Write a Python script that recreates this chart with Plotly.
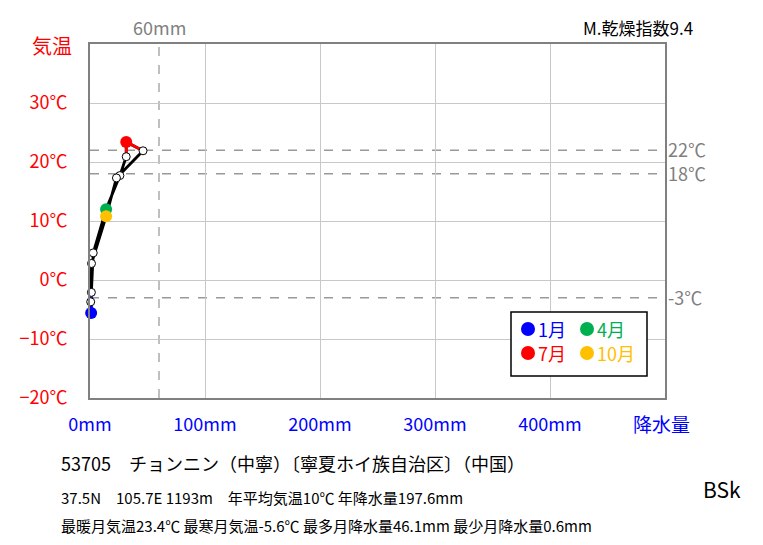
import plotly.graph_objects as go

# ---- data ----
months = ["1月", "2月", "3月", "4月", "5月", "6月", "7月", "8月", "9月", "10月", "11月", "12月"]
temp = [-5.6, -2.1, 4.6, 12.0, 17.7, 20.9, 23.4, 21.9, 17.3, 10.8, 2.8, -3.7]
precip = [1.0, 1.2, 2.8, 14.0, 26.0, 31.5, 31.5, 46.1, 23.0, 14.0, 1.3, 0.6]
highlight = {0: "#0000ff", 3: "#00b050", 6: "#ff0000", 9: "#ffc000"}
seg_colors = {0: "#0000ff", 6: "#ff0000"}
temp_lines = [22, 18, -3]
temp_line_labels = ["22℃", "18℃", "-3℃"]
precip_line = 60
y_ticks = [-20, -10, 0, 10, 20, 30]
y_ticktext = ["−20℃", "−10℃", "0℃", "10℃", "20℃", "30℃"]
x_ticks = [0, 100, 200, 300, 400]
x_ticktext = ["0mm", "100mm", "200mm", "300mm", "400mm"]

FONT = "Noto Sans CJK JP"
OFF = 8  # page body margin
W, H = 763 - 2 * OFF, 545 - 2 * OFF
# plot area in page pixels
PX0, PX1, PY1, PY0 = 90, 665, 44, 398
L = PX0 - OFF
T = PY1 - OFF
R = W - (PX1 - OFF)
B = H - (PY0 - OFF)


def px(x):
    return (x - PX0) / (PX1 - PX0)


def py(y):
    return (PY0 - y) / (PY0 - PY1)


fig = go.Figure()

# closed loop
lx = precip + [precip[0]]
ly = temp + [temp[0]]
fig.add_trace(go.Scatter(x=lx, y=ly, mode="lines", line=dict(color="black", width=2.8),
                         hoverinfo="skip", showlegend=False, cliponaxis=False))
n = len(temp)
for i, c in seg_colors.items():
    idx = [(i - 1) % n, i, (i + 1) % n]
    fig.add_trace(go.Scatter(x=[precip[k] for k in idx], y=[temp[k] for k in idx], mode="lines",
                             line=dict(color=c, width=2.8), hoverinfo="skip", showlegend=False,
                             cliponaxis=False))

wi = [i for i in range(n) if i not in highlight]
fig.add_trace(go.Scatter(x=[precip[i] for i in wi], y=[temp[i] for i in wi], mode="markers",
                         marker=dict(size=8, color="white", line=dict(color="black", width=1)),
                         text=[months[i] for i in wi], showlegend=False, cliponaxis=False))
hi = list(highlight.keys())
fig.add_trace(go.Scatter(x=[precip[i] for i in hi], y=[temp[i] for i in hi], mode="markers",
                         marker=dict(size=12, color=[highlight[i] for i in hi], line=dict(width=0)),
                         text=[months[i] for i in hi], showlegend=False, cliponaxis=False))

shapes = []
for t in temp_lines:
    shapes.append(dict(type="line", xref="paper", yref="y", x0=0, x1=1, y0=t, y1=t,
                       line=dict(color="#999999", width=1.5, dash="dash"), layer="below"))
shapes.append(dict(type="line", xref="x", yref="paper", x0=precip_line, x1=precip_line, y0=0, y1=1,
                   line=dict(color="#aaaaaa", width=1.5, dash="dash"), layer="below"))

# legend box
shapes.append(dict(type="rect", xref="paper", yref="paper", x0=px(511), x1=px(647), y0=py(376), y1=py(312),
                   line=dict(color="black", width=1.5), fillcolor="white", layer="above"))
annotations = []
leg = [(0, 528, 329), (3, 587, 329), (6, 528, 353), (9, 587, 353)]
for i, cx, cy in leg:
    r = 7
    shapes.append(dict(type="circle", xref="paper", yref="paper", x0=px(cx - r), x1=px(cx + r),
                       y0=py(cy + r), y1=py(cy - r), fillcolor=highlight[i], line=dict(width=0), layer="above"))
    annotations.append(dict(xref="paper", yref="paper", x=px(cx + 8), y=py(cy), text=months[i],
                            showarrow=False, xanchor="left", yanchor="middle",
                            font=dict(family=FONT, size=18, color=highlight[i])))

for t, lab in zip(temp_lines, temp_line_labels):
    annotations.append(dict(xref="paper", yref="y", x=px(667), y=t + 0.15, text=lab, showarrow=False,
                            xanchor="left", yanchor="middle", borderpad=0,
                            font=dict(family=FONT, size=18, color="#808080")))

annotations += [
    dict(xref="x", yref="paper", x=precip_line, y=py(27), text="60mm", showarrow=False,
         xanchor="center", yanchor="middle", font=dict(family=FONT, size=18, color="#808080")),
    dict(xref="paper", yref="paper", x=px(52), y=py(45), text="気温", showarrow=False,
         xanchor="center", yanchor="middle", font=dict(family=FONT, size=20, color="#ff0000")),
    dict(xref="paper", yref="paper", x=px(695), y=py(27), text="M.乾燥指数9.4", showarrow=False,
         xanchor="right", yanchor="middle", font=dict(family=FONT, size=17, color="black")),
    dict(xref="paper", yref="paper", x=px(661), y=py(423), text="降水量", showarrow=False,
         xanchor="center", yanchor="middle", font=dict(family=FONT, size=19, color="#0000ff")),
    dict(xref="paper", yref="paper", x=px(59), y=py(463),
         text="53705　チョンニン（中寧）〔寧夏ホイ族自治区〕（中国）", showarrow=False,
         xanchor="left", yanchor="middle", font=dict(family=FONT, size=18, color="black")),
    dict(xref="paper", yref="paper", x=px(59), y=py(497),
         text="37.5N　105.7E 1193m　年平均気温10℃ 年降水量197.6mm", showarrow=False,
         xanchor="left", yanchor="middle", font=dict(family=FONT, size=15, color="black")),
    dict(xref="paper", yref="paper", x=px(59), y=py(525),
         text="最暖月気温23.4℃ 最寒月気温-5.6℃ 最多月降水量46.1mm 最少月降水量0.6mm", showarrow=False,
         xanchor="left", yanchor="middle", font=dict(family=FONT, size=15, color="black")),
    dict(xref="paper", yref="paper", x=px(722), y=py(489), text="BSk", showarrow=False,
         xanchor="center", yanchor="middle", font=dict(family=FONT, size=21, color="black")),
]

fig.update_layout(
    width=W, height=H, margin=dict(l=L, r=R, t=T, b=B),
    paper_bgcolor="white", plot_bgcolor="white",
    shapes=shapes, annotations=annotations, showlegend=False,
    xaxis=dict(range=[0, 500], tickvals=x_ticks, ticktext=x_ticktext, showgrid=True, gridcolor="#c8c8c8",
               gridwidth=1, zeroline=False, showline=True, linecolor="#808080", linewidth=2, mirror=True,
               tickfont=dict(family=FONT, size=18, color="#0000ff"), ticks="", ticklabelstandoff=9),
    yaxis=dict(range=[-20, 40], tickvals=y_ticks, ticktext=y_ticktext, showgrid=True, gridcolor="#c8c8c8",
               gridwidth=1, zeroline=False, showline=True, linecolor="#808080", linewidth=2, mirror=True,
               tickfont=dict(family=FONT, size=18, color="#ff0000"), ticks="", ticklabelstandoff=17),
)

fig.write_html("out.html")
